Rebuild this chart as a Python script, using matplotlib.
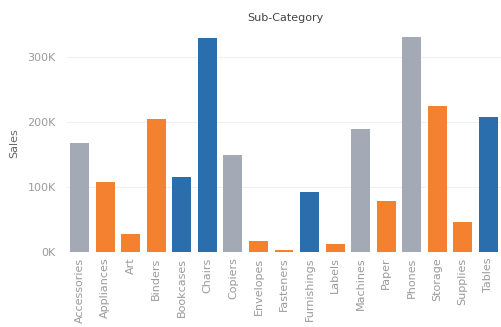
import matplotlib
matplotlib.use("Agg")
import matplotlib.pyplot as plt
from matplotlib.ticker import FuncFormatter

sub_categories = ["Accessories", "Appliances", "Art", "Binders", "Bookcases", "Chairs",
                  "Copiers", "Envelopes", "Fasteners", "Furnishings", "Labels", "Machines",
                  "Paper", "Phones", "Storage", "Supplies", "Tables"]
sales = [167380, 107532, 27119, 203413, 114880, 328449, 149528, 16476, 3024, 91705,
         12486, 189239, 78479, 330007, 223844, 46674, 206966]
category = ["Technology", "Office Supplies", "Office Supplies", "Office Supplies", "Furniture",
            "Furniture", "Technology", "Office Supplies", "Office Supplies", "Furniture",
            "Office Supplies", "Technology", "Office Supplies", "Technology", "Office Supplies",
            "Office Supplies", "Furniture"]
y_ticks = [0, 100000, 200000, 300000]

palette = {"Furniture": "#2b6ead", "Office Supplies": "#f3812f", "Technology": "#a3aab6"}

fig = plt.figure(figsize=(5.01, 3.27), dpi=100)
ax = fig.add_axes([67 / 501, 1 - 252 / 327, 1 - 67 / 501, (252 - 35) / 327])

x = range(len(sub_categories))
ax.bar(x, sales, width=0.74, color=[palette[c] for c in category], zorder=3)

ax.set_xlim(-0.5, len(sub_categories) - 0.5)
ax.set_ylim(0, 333000)
ax.set_yticks(y_ticks)
ax.yaxis.set_major_formatter(FuncFormatter(lambda v, _: f"{int(v / 1000)}K"))
ax.set_xticks(list(x))
ax.set_xticklabels(sub_categories, rotation=90, fontsize=8, color="#9a9a9a")
ax.tick_params(axis="y", labelsize=8, labelcolor="#9a9a9a", length=0, pad=8)
ax.tick_params(axis="x", length=0, pad=4)

ax.grid(axis="y", color="#f0f0f0", linewidth=0.8, zorder=0)
for s in ax.spines.values():
    s.set_visible(False)

ax.set_ylabel("Sales", fontsize=8, color="#666666", labelpad=6)
fig.text(285 / 501, 1 - 18 / 327, "Sub-Category", ha="center", va="center",
         fontsize=8, color="#444444")

fig.savefig("out.png", dpi=100)
